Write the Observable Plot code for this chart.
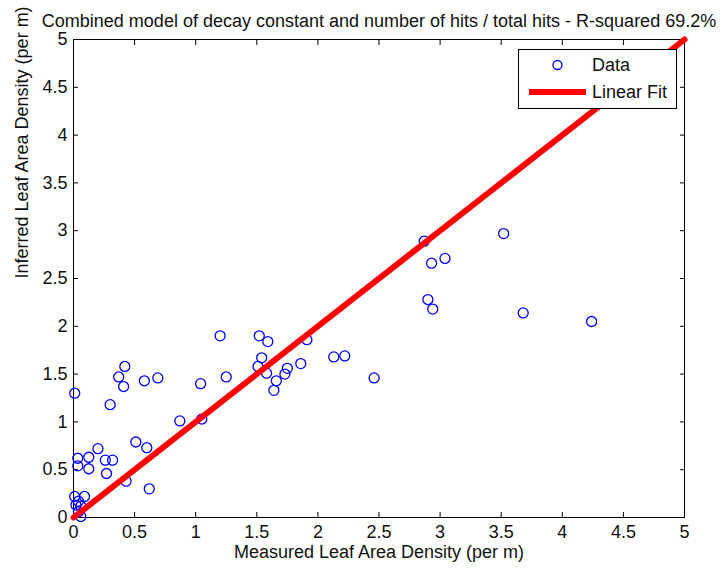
<!DOCTYPE html>
<html>
<head>
<meta charset="utf-8">
<script src="https://cdn.jsdelivr.net/npm/d3@7"></script>
<script src="https://cdn.jsdelivr.net/npm/@observablehq/plot@0.6"></script>
<style>
  html, body { margin: 0; padding: 0; background: white; }
  #chart { position: relative; width: 723px; height: 570px; }
  #legend { position: absolute; left: 518px; top: 49px; }
</style>
</head>
<body>
<div id="chart"></div>
<script>
const measured = [0.01, 0.09, 0.04, 0.02, 0.06, 0.04, 0.06,
  0.01, 0.035, 0.125, 0.035, 0.125, 0.20,
  0.26, 0.32, 0.27, 0.43, 0.62, 0.51, 0.60,
  0.30, 0.42, 0.37, 0.41, 0.58, 0.69,
  0.87, 1.05, 1.04, 1.25, 1.20,
  1.52, 1.59, 1.54, 1.51, 1.58, 1.66, 1.64,
  1.75, 1.73, 1.86, 1.91, 2.13, 2.22, 2.46,
  2.87, 3.52, 2.93, 3.04, 2.90, 2.94, 3.68, 4.24];
const inferred = [0.22, 0.22, 0.17, 0.13, 0.12, 0.06, 0.01,
  1.30, 0.62, 0.63, 0.54, 0.51, 0.72,
  0.60, 0.60, 0.46, 0.38, 0.30, 0.79, 0.73,
  1.18, 1.58, 1.47, 1.37, 1.43, 1.46,
  1.01, 1.03, 1.40, 1.47, 1.90,
  1.90, 1.84, 1.67, 1.58, 1.51, 1.43, 1.33,
  1.56, 1.50, 1.61, 1.86, 1.68, 1.69, 1.46,
  2.89, 2.97, 2.66, 2.71, 2.28, 2.18, 2.14, 2.05];
const fitX = [0, 5];
const fitY = [0, 5];
const xTicks = [0, 0.5, 1, 1.5, 2, 2.5, 3, 3.5, 4, 4.5, 5];
const yTicks = [0, 0.5, 1, 1.5, 2, 2.5, 3, 3.5, 4, 4.5, 5];
const titleText = "Combined model of decay constant and number of hits / total hits - R-squared 69.2%";
const xLabel = "Measured Leaf Area Density (per m)";
const yLabel = "Inferred Leaf Area Density (per m)";
const legendLabels = ["Data", "Linear Fit"];

const points = measured.map((m, i) => ({m, v: inferred[i]}));
const fit = fitX.map((x, i) => ({x, y: fitY[i]}));
const fmt = d => String(d);
const FONT = "'Liberation Sans', Arial, sans-serif";

const chart = Plot.plot({
  width: 723,
  height: 570,
  marginLeft: 73,
  marginRight: 39,
  marginTop: 39,
  marginBottom: 53,
  style: {fontFamily: FONT, fontSize: "18px", background: "white", color: "#111", overflow: "visible"},
  x: {domain: [0, 5]},
  y: {domain: [0, 5]},
  marks: [
    Plot.axisX(xTicks, {anchor: "bottom", tickSize: -5, text: null, label: null, stroke: "black"}),
    Plot.axisX(xTicks, {anchor: "top", tickSize: -5, text: null, label: null, stroke: "black"}),
    Plot.axisY(yTicks, {anchor: "left", tickSize: -5, text: null, label: null, stroke: "black"}),
    Plot.axisY(yTicks, {anchor: "right", tickSize: -5, text: null, label: null, stroke: "black"}),
    Plot.axisX(xTicks, {anchor: "bottom", tickSize: 0, tickPadding: 8, tickFormat: fmt, label: null, fontSize: 18}),
    Plot.axisY(yTicks, {anchor: "left", tickSize: 0, tickPadding: 6, tickFormat: fmt, label: null, fontSize: 18}),
    Plot.frame({stroke: "black", strokeWidth: 1}),
    Plot.dot(points, {x: "m", y: "v", r: 5, stroke: "#0000ff", strokeWidth: 1.3, fill: "none"}),
    Plot.line(fit, {x: "x", y: "y", stroke: "#ff0000", strokeWidth: 6}),
    Plot.text([titleText], {frameAnchor: "top", dy: -25, fontSize: 18}),
    Plot.text([xLabel], {frameAnchor: "bottom", dy: 40, fontSize: 18}),
    Plot.text([yLabel], {frameAnchor: "left", dx: -51, rotate: -90, fontSize: 18})
  ]
});

const container = document.getElementById("chart");
container.appendChild(chart);

// Legend box (MATLAB style), overlaid on top of the plot
const lg = d3.select(container).append("svg")
  .attr("id", "legend")
  .attr("width", 159).attr("height", 60)
  .style("font-size", "18px").style("font-family", FONT);
lg.append("rect").attr("x", 0.5).attr("y", 0.5).attr("width", 158).attr("height", 59)
  .style("fill", "white").style("stroke", "black").style("stroke-width", 1);
lg.append("circle").attr("cx", 39.5).attr("cy", 16).attr("r", 4.5)
  .style("fill", "none").style("stroke", "#0000ff").style("stroke-width", 1.3);
lg.append("line").attr("x1", 11).attr("x2", 68).attr("y1", 43).attr("y2", 43)
  .style("stroke", "#ff0000").style("stroke-width", 6);
lg.append("text").attr("x", 74).attr("y", 16).attr("dy", "0.35em").style("fill", "#111").text(legendLabels[0]);
lg.append("text").attr("x", 74).attr("y", 43).attr("dy", "0.35em").style("fill", "#111").text(legendLabels[1]);
</script>
</body>
</html>
